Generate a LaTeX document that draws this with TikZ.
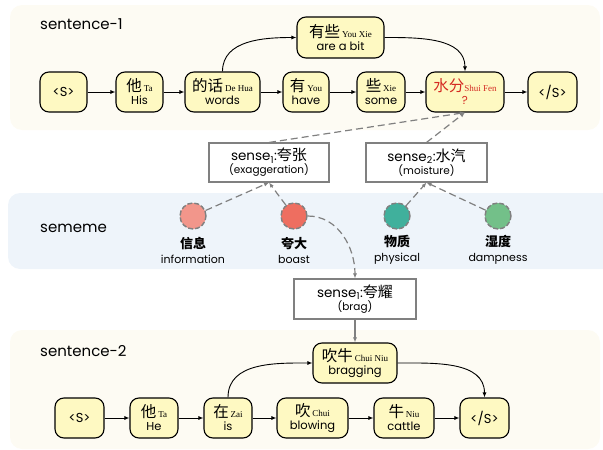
\documentclass[tikz,border=0pt]{standalone}
\usepackage{fontspec}
\setmainfont{Poppins}
\newfontfamily\cjk{Noto Sans CJK SC}
\newfontfamily\py{Liberation Serif}
\usetikzlibrary{arrows.meta}
\definecolor{panelA}{HTML}{FDFBF3}
\definecolor{panelB}{HTML}{EEF4FA}
\definecolor{nodefill}{HTML}{FEF9C2}
\definecolor{edgegray}{HTML}{808080}
\definecolor{wred}{HTML}{D42A22}
\definecolor{cA}{HTML}{F2968B}
\definecolor{cB}{HTML}{EE6E60}
\definecolor{cC}{HTML}{40B09C}
\definecolor{cD}{HTML}{73C089}
\newcommand{\zh}[1]{{\cjk\fontsize{15.5}{16}\selectfont #1}}
\newcommand{\pyn}[1]{{\py\fontsize{9}{10}\selectfont #1}}
\newcommand{\tg}[1]{{\fontsize{13}{14}\selectfont #1}}
\begin{document}
\begin{tikzpicture}[x=1pt,y=-1pt,
  wnode/.style={draw=black, line width=1.1pt, rounded corners=9pt, fill=nodefill,
    minimum height=40pt, inner sep=0pt, align=center,
    font=\fontsize{11.5}{13}\selectfont},
  sensebox/.style={draw=edgegray, line width=1.1pt, fill=white, minimum height=39pt,
    inner sep=0pt, align=center, font=\fontsize{13.5}{15}\selectfont},
  semdot/.style={circle, minimum size=26pt, inner sep=0pt, draw=edgegray,
    line width=1.4pt, dash pattern=on 5pt off 2pt},
  semlab/.style={align=center, inner sep=0pt, font=\fontsize{11}{15}\selectfont},
  panellab/.style={anchor=west, inner sep=0pt, font=\fontsize{15}{17}\selectfont},
  arr/.style={-{Latex[length=5pt,width=4pt]}, line width=0.9pt, black},
  garr/.style={-{Latex[length=5pt,width=4pt]}, line width=1.2pt, edgegray,
    dash pattern=on 7pt off 4pt},
  gsolid/.style={-{Latex[length=5pt,width=4pt]}, line width=1.1pt, edgegray},
]
\useasboundingbox (0,0) rectangle (603,450);
\clip (0,0) rectangle (603,450);
% panels
\fill[panelA, rounded corners=12pt] (10,5) rectangle (600,130);
\fill[panelB, rounded corners=12pt] (8,193) rectangle (620,269);
\fill[panelA, rounded corners=12pt] (10,330) rectangle (600,449);
\node[panellab] (lab1) at (40,24) {sentence-1};
\node[panellab] (lab2) at (40,351) {sentence-2};
\node[panellab] (lab3) at (40,228) {sememe};

% sentence 1
\node[wnode, minimum width=47pt] (a1) at (63.5,92) {\tg{<S>}};
\node[wnode, minimum width=47pt] (a2) at (139.5,92) {\zh{他}\,\pyn{Ta}\\His};
\node[wnode, minimum width=75pt] (a3) at (222.5,92) {\zh{的话}\,\pyn{De Hua}\\words};
\node[wnode, minimum width=46pt] (a4) at (306,92) {\zh{有}\,\pyn{You}\\have};
\node[wnode, minimum width=48pt] (a5) at (381,92) {\zh{些}\,\pyn{Xie}\\some};
\node[wnode, minimum width=78pt, text=wred] (a6) at (465,92) {\zh{水分}\pyn{Shui Fen}\\?};
\node[wnode, minimum width=49pt] (a7) at (552.5,92) {\tg{</S>}};
\node[wnode, minimum width=87pt, minimum height=41pt] (a8) at (340.5,37.5) {\zh{有些}\,\pyn{You Xie}\\are a bit};
\draw[arr] (a1) -- (a2);
\draw[arr] (a2) -- (a3);
\draw[arr] (a3) -- (a4);
\draw[arr] (a4) -- (a5);
\draw[arr] (a5) -- (a6);
\draw[arr] (a6) -- (a7);
\draw[arr] (a3.north) to[out=90, in=180] (a8.west);
\draw[arr] (a8.east) to[out=0, in=90] (a6.north);

% senses
\node[sensebox, minimum width=120pt] (s1) at (269,162.5) {sense\textsubscript{1}:{\cjk\fontsize{15}{15}\selectfont 夸张}\\[-2pt]{\fontsize{10.5}{12}\selectfont (exaggeration)}};
\node[sensebox, minimum width=121pt] (s2) at (426.5,162.5) {sense\textsubscript{2}:{\cjk\fontsize{15}{15}\selectfont 水汽}\\[-2pt]{\fontsize{10.5}{12}\selectfont (moisture)}};
\node[sensebox, minimum width=122pt, minimum height=40pt] (s3) at (355,299) {sense\textsubscript{1}:{\cjk\fontsize{15}{15}\selectfont 夸耀}\\[-2pt]{\fontsize{10.5}{12}\selectfont (brag)}};
\draw[garr] (s1.north) -- (a6.south);
\draw[garr] (s2.north) -- (a6.south);

% sememes
\node[semdot, fill=cA] (m1) at (193,216) {};
\node[semdot, fill=cB] (m2) at (294,216) {};
\node[semdot, fill=cC] (m3) at (397,216) {};
\node[semdot, fill=cD] (m4) at (498,216) {};
\node[semlab] (t1) at (193,250) {{\cjk\bfseries\fontsize{13}{15}\selectfont 信息}\\information};
\node[semlab] (t2) at (294,250) {{\cjk\bfseries\fontsize{13}{15}\selectfont 夸大}\\boast};
\node[semlab] (t3) at (397,250) {{\cjk\bfseries\fontsize{13}{15}\selectfont 物质}\\physical};
\node[semlab] (t4) at (498,250) {{\cjk\bfseries\fontsize{13}{15}\selectfont 湿度}\\dampness};
\draw[garr] (m1) -- (s1.south);
\draw[garr] (m2) -- (s1.south);
\draw[garr] (m3) -- (s2.south);
\draw[garr] (m4) -- (s2.south);
\draw[garr] (m2.east) to[out=0, in=90] (s3.north);

% sentence 2
\node[wnode, minimum width=49pt] (b1) at (79.5,418) {\tg{<S>}};
\node[wnode, minimum width=48pt] (b2) at (154,418) {\zh{他}\,\pyn{Ta}\\He};
\node[wnode, minimum width=48pt] (b3) at (228,418) {\zh{在}\,\pyn{Zai}\\is};
\node[wnode, minimum width=71pt] (b4) at (312.5,418) {\zh{吹}\,\pyn{Chui}\\blowing};
\node[wnode, minimum width=60pt] (b5) at (404,418) {\zh{牛}\,\pyn{Niu}\\cattle};
\node[wnode, minimum width=49pt] (b6) at (484.5,418) {\tg{</S>}};
\node[wnode, minimum width=84pt] (b7) at (355,363) {\zh{吹牛}\,\pyn{Chui Niu}\\bragging};
\draw[arr] (b1) -- (b2);
\draw[arr] (b2) -- (b3);
\draw[arr] (b3) -- (b4);
\draw[arr] (b4) -- (b5);
\draw[arr] (b5) -- (b6);
\draw[arr] (b3.north) to[out=90, in=180] (b7.west);
\draw[arr] (b7.east) to[out=0, in=90] (b6.north);
\draw[gsolid] (s3.south) -- (b7.north);
\end{tikzpicture}
\end{document}
